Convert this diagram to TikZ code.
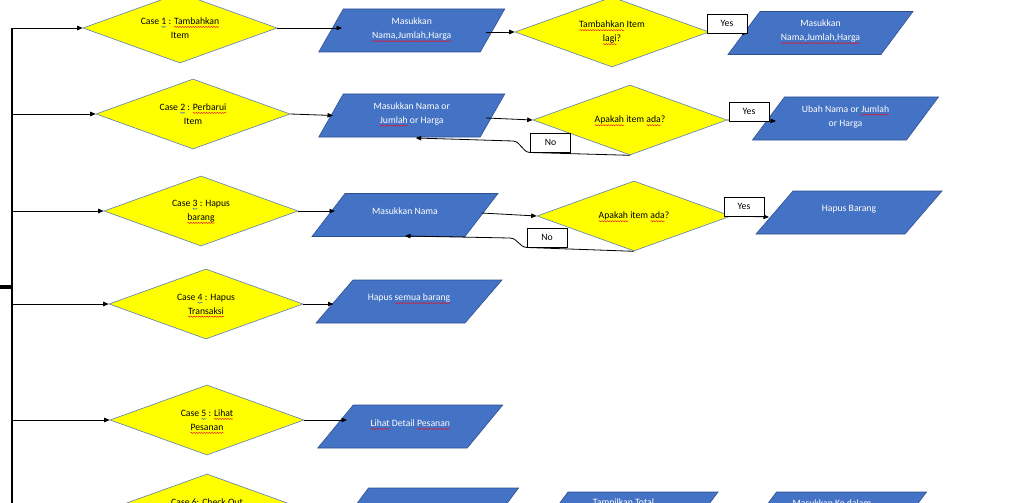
\documentclass[tikz,border=0pt]{standalone}
\usepackage{fontspec}
\setmainfont{Carlito}
\usetikzlibrary{shapes.geometric,arrows.meta,calc,decorations.pathmorphing}

\definecolor{ioblue}{HTML}{4472C4}
\definecolor{ioedge}{HTML}{2F528F}
\definecolor{decfill}{HTML}{FFFF00}
\definecolor{decedge}{HTML}{5B7DB8}
\definecolor{spellred}{HTML}{E81123}
\definecolor{gramblue}{HTML}{2B6FD6}

% wavy proofing marks under single words
\tikzset{
  markword/.style={shape=rectangle, draw=none, fill=none, inner sep=0pt,
    outer sep=0pt, minimum width=0pt, minimum height=0pt, align=left},
  markline/.style={overlay, draw=#1, fill=none, line width=0.45pt, decorate,
    decoration={snake, amplitude=0.55pt, segment length=2.6pt}}
}
\newcommand\proofmark[2]{\tikz[baseline=(pw.base)]{%
  \node[markword] (pw) {#2};
  \path[markline=#1]
    ([yshift=-2.6pt]pw.base west) -- ([yshift=-2.6pt]pw.base east);}}
\newcommand\spellmark[1]{\proofmark{spellred}{#1}}
\newcommand\grammark[1]{\proofmark{gramblue}{#1}}

\tikzset{
  txt/.style={font=\fontsize{9.7}{14}\selectfont},
  casebox/.style={txt, diamond, aspect=2.77, fill=decfill, draw=decedge,
    line width=0.6pt, minimum width=194pt, minimum height=70pt,
    inner sep=0pt, align=center},
  % the body of an input/output step, measured at mid height: its west and
  % east anchors sit on the slanted sides
  iobody/.style={rectangle, minimum width=#1, minimum height=43pt,
    inner sep=0pt, outer sep=0pt},
  iofill/.style={fill=ioblue, draw=ioedge, line width=0.6pt},
  iotext/.style={txt, text=white, align=center, inner sep=0pt},
  tag/.style={txt, draw=black, fill=white, line width=0.7pt,
    minimum width=40pt, minimum height=19pt, inner sep=0pt},
  arr/.style={-{Triangle[length=5.5pt,width=4.5pt]}, line width=0.8pt}
}
% parallelogram leaning right around a body node; #1 = half the slant
\newcommand\ioshape[2]{%
  \filldraw[iofill] ([xshift=#1]#2.north west) -- ([xshift=#1]#2.north east)
    -- ([xshift=-#1]#2.south east) -- ([xshift=-#1]#2.south west) -- cycle;}

\begin{document}
\begin{tikzpicture}[x=1pt,y=-1pt]
\useasboundingbox (0,0) rectangle (1021,503);
\clip (0,0) rectangle (1021,503);

% menu cases
\node[casebox] (c1) at (180,28) {Case \grammark{1} : \spellmark{Tambahkan}\\Item};
\node[casebox] (c2) at (193,114) {Case \grammark{2} : \spellmark{Perbarui}\\Item};
\node[casebox] (c3) at (201,211) {Case \grammark{3} : Hapus\\\spellmark{barang}};
\node[casebox] (c4) at (206,304) {Case \grammark{4} : Hapus\\\spellmark{Transaksi}};
\node[casebox] (c5) at (207,420) {Case \grammark{5} : \spellmark{Lihat}\\\spellmark{Pesanan}};
\node[casebox] (c6) at (207,509) {Case 6: Check Out\\\mbox{}};

% decisions
\node[casebox] (q1) at (612,32) {\spellmark{Tambahkan} Item\\\spellmark{lagi}?};
\node[casebox] (q2) at (630,120) {\spellmark{Apakah} item \spellmark{ada}?};
\node[casebox] (q3) at (634,216) {\spellmark{Apakah} item \spellmark{ada}?};

% input / output steps
\node[iobody=161.5pt] (p1) at (411.75,30.5) {};
\node[iobody=161.5pt] (p2) at (411.75,115.5) {};
\node[iobody=153pt] (p3) at (405,215) {};
\node[iobody=149pt] (p4) at (409,301.5) {};
\node[iobody=149.5pt] (p5) at (410.25,426.5) {};
\node[iobody=150pt] (p6a) at (427.5,509.5) {};
\node[iobody=150pt] (p6b) at (627,513.5) {};
\node[iobody=150pt] (p6c) at (835.5,513.5) {};
\node[iobody=153pt] (r1) at (820.5,33) {};
\node[iobody=154pt] (r2) at (845.5,118.5) {};
\node[iobody=149pt] (r3) at (849,212.5) {};
\ioshape{12.25pt}{p1} \ioshape{12.25pt}{p2} \ioshape{16.5pt}{p3}
\ioshape{18.5pt}{p4} \ioshape{17.75pt}{p5}
\ioshape{16pt}{p6a} \ioshape{16pt}{p6b} \ioshape{16pt}{p6c}
\ioshape{16pt}{r1} \ioshape{16pt}{r2} \ioshape{18.5pt}{r3}

\node[iotext] (p1t) at ([yshift=1.5pt]p1.center) {Masukkan\\\spellmark{Nama,Jumlah,Harga}};
\node[iotext] (p2t) at ([yshift=2pt]p2.center) {Masukkan Nama or\\\spellmark{Jumlah} or Harga};
\node[iotext] (p3t) at ([yshift=4pt]p3.center) {Masukkan Nama};
\node[iotext] (p4t) at ([yshift=3.5pt]p4.center) {Hapus \spellmark{semua barang}};
\node[iotext] (p5t) at ([yshift=3.5pt]p5.center) {\spellmark{Lihat} Detail \spellmark{Pesanan}};
\node[iotext] (p6bt) at ([xshift=-3.5pt,yshift=10.5pt]p6b.center) {Tampilkan Total};
\node[iotext] (p6ct) at ([xshift=-3.5pt,yshift=10.5pt]p6c.center) {Masukkan Ke dalam};
\node[iotext] (r1t) at ([yshift=2pt]r1.center) {Masukkan\\\spellmark{Nama,Jumlah,Harga}};
\node[iotext] (r2t) at ([yshift=2pt]r2.center) {Ubah Nama or \spellmark{Jumlah}\\or Harga};
\node[iotext] (r3t) at ([yshift=3.5pt]r3.center) {Hapus Barang};

% main trunk
\coordinate (trunktop) at (12,28);
\coordinate (trunkbot) at (12,520);
\coordinate (stubin) at (0,287);
\coordinate (stubout) at (12.8,287);
\draw[line width=1.6pt] (trunktop) -- (trunkbot);
\draw[line width=4pt] (stubin) -- (stubout);

\foreach \c in {c1,c2,c3,c4,c5}
  \draw[arr] (\c.west -| trunktop) -- (\c.west);

% case -> first step
\draw[arr] (c1.east) -- ([xshift=11pt]c1.east -| p1.west);
\draw[arr] (c2.east) -- ([xshift=2pt]p2.west);
\draw[arr] (c3.east) -- ([xshift=6.5pt]c3.east -| p3.west);
\draw[arr] (c4.east) -- ([xshift=-1pt]c4.east -| p4.west);
\draw[arr] (c5.east) -- ([xshift=11.5pt]c5.east -| p5.west);

% step -> decision
\draw[arr] ([xshift=-7pt,yshift=-1.5pt]p1.east) -- (q1.west);
\draw[arr] ([xshift=-6.5pt,yshift=-2.5pt]p2.east) -- (q2.west);
\draw[arr] ([yshift=2pt]p3.east) -- (q3.west);

% decision -> result
\draw[arr] (q1.east) -- ([xshift=4pt]r1.west);
\draw[arr] (q2.east) -- ([xshift=7.5pt,yshift=-2.5pt]r2.west);
\draw[arr] (q3.east) -- ([xshift=-5.5pt,yshift=-4.5pt]r3.west);

% loops back on "No"
\coordinate (n2bend) at (513,141);
\coordinate (n3bend) at (510,238);
\draw[arr] (q2.south) -- (530,152.5) .. controls (522,152) and (521,141.5) .. (n2bend)
  -- ([xshift=4pt,yshift=-1pt]p2.south);
\draw[arr] (q3.south) -- (527,247.5) .. controls (519,247) and (518,238.5) .. (n3bend)
  -- ([yshift=0.5pt]p3.south);

% branch tags
\node[tag] (y1) at (727,23.5) {Yes};
\node[tag] (y2) at (749,111.5) {Yes};
\node[tag] (y3) at (744,206.5) {Yes};
\node[tag] (n2) at (550.5,142.5) {No};
\node[tag] (n3) at (547,237.5) {No};
\end{tikzpicture}
\end{document}
